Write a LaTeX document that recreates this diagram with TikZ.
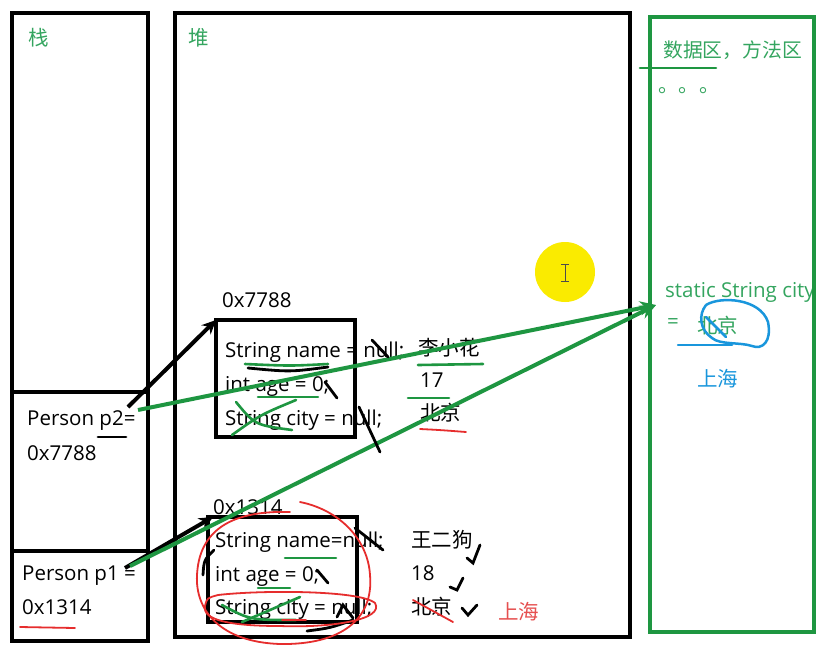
\documentclass[tikz,border=0pt]{standalone}
\usepackage{fontspec}
\setmainfont{Open Sans}
\newfontfamily\cjk{Noto Sans CJK SC}
\usetikzlibrary{arrows.meta}
\definecolor{tgreen}{RGB}{52,165,95}
\definecolor{agreen}{RGB}{30,150,65}
\definecolor{mblue}{RGB}{25,150,220}
\definecolor{mred}{RGB}{230,45,45}
\definecolor{tred}{RGB}{230,80,80}
\definecolor{ylw}{RGB}{250,235,0}
\tikzset{
  frame/.style={line width=4pt},
  gframe/.style={line width=4pt,draw=agreen},
  txt/.style={anchor=base west,inner sep=0pt,font=\fontsize{20.5}{22}\selectfont},
  ctxt/.style={txt,font=\cjk\fontsize{20.5}{22}\selectfont},
  gtxt/.style={ctxt,text=tgreen},
  gltxt/.style={txt,text=tgreen},
  btxt/.style={ctxt,text=mblue},
  rtxt/.style={ctxt,text=tred},
  gpen/.style={line width=2.6pt,draw=agreen,line cap=round},
  rpen/.style={line width=1.8pt,draw=mred,line cap=round},
  bpen/.style={line width=2.5pt,draw=mblue,line cap=round},
  kpen/.style={line width=2.8pt,line cap=round},
  garrow/.style={line width=4pt,draw=agreen,-{Stealth[length=16pt,width=14pt]}},
  karrow/.style={line width=4pt,-{Stealth[length=14pt,width=13pt]}}
}
\begin{document}
\begin{tikzpicture}[x=1pt,y=-1pt]
\useasboundingbox (0,0) rectangle (827,649);
\fill[white] (0,0) rectangle (827,649);
% stack
\draw[frame] (12,13) rectangle (148,641);
\draw[frame] (12,392) -- (148,392);
\draw[frame] (12,551) -- (148,551);
\node[gtxt] (stack) at (28,45) {栈};
% heap
\draw[frame] (175,13) rectangle (630,637);
\node[gtxt] (heap) at (188,45) {堆};
% method area
\node[gltxt,font=\fontsize{20.5}{22}\selectfont] (static) at (665,297) {static String city};
\draw[gframe] (650,17) rectangle (814,632);
\node[gtxt,font=\cjk\fontsize{19.8}{22}\selectfont] (area) at (663,57) {数据区，方法区};
\node[gtxt] (dots) at (658,92) {。。。};
\draw[gpen] (640,68) -- (716,68);
\node[gltxt] (eq) at (667,328) {=};
\node[gtxt] (bj) at (697,333) {北京};
\node[btxt] (sh) at (697,386) {上海};
% yellow cursor highlight
\fill[ylw] (565,272) circle (30);
\draw[line width=1pt,gray!60!black] (565,264) -- (565,281) (561,264) -- (569,264) (561,281) -- (569,281);
% object 0x7788
\node[txt] (a7788) at (222,307) {0x7788};
\draw[frame] (216,320) rectangle (355,437);
\node[txt] (n1) at (225,357) {String name = null;};
\node[txt] (g1) at (225,391) {int age = 0;};
\node[txt] (c1) at (225,425) {String city = null;};
\node[ctxt] (v1a) at (418,355) {李小花};
\node[txt] (v1b) at (420,387) {17};
\node[ctxt] (v1c) at (420,420) {北京};
% object 0x1314
\node[txt] (a1314) at (213,514) {0x1314};
\draw[frame] (208,517) rectangle (357,622);
\node[txt] (n2) at (215,547) {String name=null;};
\node[txt] (g2) at (215,581) {int age = 0;};
\node[txt] (c2) at (215,614) {String city = null;};
\node[ctxt] (v2a) at (411,547) {王二狗};
\node[txt] (v2b) at (411,580) {18};
\node[ctxt] (v2c) at (411,614) {北京};
\node[rtxt] (sh2) at (498,619) {上海};
% stack vars
\node[txt] (p2) at (27,425) {Person p2=};
\node[txt] (p2v) at (27,460) {0x7788};
\node[txt] (p1) at (22,580) {Person p1 =};
\node[txt] (p1v) at (22,614) {0x1314};
% coordinates for connectors
\coordinate (p2k) at (128,407);
\coordinate (p1k) at (125,568);
\coordinate (o1) at (216,320);
\coordinate (o2) at (213,517);
\coordinate (p2g) at (138,410);
\coordinate (p1g) at (130,566);
\coordinate (sc) at (656,305);
% arrows
\draw[karrow] (p2k) -- (o1);
\draw[karrow] (p1k) -- (o2);
\draw[garrow] (p2g) -- (sc);
\draw[garrow] (p1g) -- (sc);
% annotations: box 1
\draw[kpen] (248,368) .. controls (290,372) .. (328,367);
\draw[gpen] (245,364) .. controls (290,366) .. (328,364);
\draw[gpen] (258,397) -- (318,397);
\draw[gpen] (236,402) .. controls (255,425) .. (292,430);
\draw[gpen] (232,435) .. controls (260,415) .. (296,400);
\draw[gpen] (418,365) -- (483,364);
\draw[gpen] (408,398) -- (449,398);
\draw[rpen] (420,429) .. controls (440,430) .. (466,432);
\draw[kpen] (372,340) -- (388,357);
\draw[kpen] (325,382) -- (337,398);
\draw[kpen] (359,407) -- (380,452);
\draw[kpen] (98,437) -- (126,437);
% annotations: box 2
\draw[gpen] (285,558) -- (336,558);
\draw[gpen] (258,588) -- (290,588);
\draw[gpen] (222,605) .. controls (250,620) .. (296,620);
\draw[gpen] (242,622) .. controls (270,610) .. (300,597);
\draw[rpen] (282,620) -- (306,620);
\draw[kpen] (355,528) -- (383,550);
\draw[kpen] (317,570) -- (328,583);
\draw[kpen] (337,617) -- (343,605) -- (353,618);
\draw[kpen] (203,575) .. controls (204,560) .. (214,550);
\draw[kpen] (307,631) .. controls (330,628) .. (353,620);
\draw[kpen] (467,558) -- (473,563) -- (480,545);
\draw[kpen] (450,587) -- (457,590) -- (463,578);
\draw[kpen] (462,608) -- (468,615) -- (477,605);
\draw[rpen] (413,600) -- (453,622);
\draw[rpen] (300,502) .. controls (340,510) and (368,540) .. (370,575)
  .. controls (374,620) and (340,645) .. (280,644)
  .. controls (220,642) and (195,610) .. (197,575)
  .. controls (199,535) and (225,510) .. (290,512);
\draw[rpen] (218,595) .. controls (260,590) and (360,590) .. (375,603)
  .. controls (385,620) and (330,628) .. (280,626)
  .. controls (230,626) and (202,620) .. (205,606) .. controls (207,598) .. (218,595);
\draw[rpen] (20,627) -- (75,628);
% blue annotations in method area
\draw[bpen] (706,305) .. controls (720,296) and (760,298) .. (768,322)
  .. controls (772,342) and (762,350) .. (752,346)
  .. controls (740,342) and (720,345) .. (712,338)
  .. controls (700,330) and (698,315) .. (706,305);
\draw[bpen] (678,345) -- (732,345);
\draw[bpen] (706,317) -- (726,337);
\end{tikzpicture}
\end{document}
